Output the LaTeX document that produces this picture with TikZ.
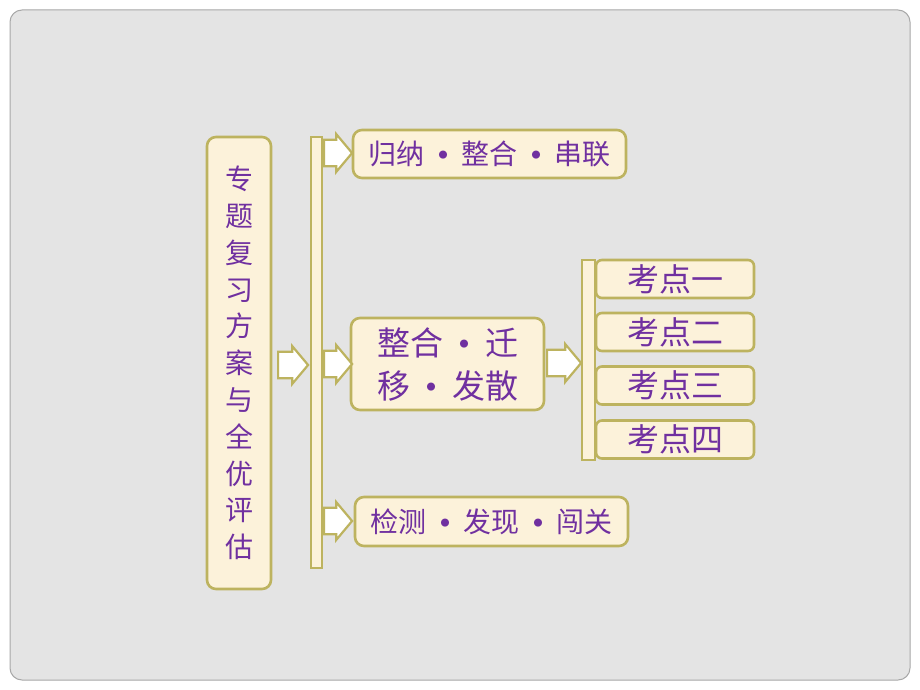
\documentclass[tikz,border=0pt]{standalone}
\usepackage{fontspec}
\setmainfont{Noto Sans CJK SC}
\usetikzlibrary{shapes.arrows}
\definecolor{bggray}{HTML}{E4E4E4}
\definecolor{bgline}{HTML}{A8A8A8}
\definecolor{cream}{HTML}{FCF2DA}
\definecolor{olive}{HTML}{BDB35F}
\definecolor{txtpurple}{HTML}{7030A0}
\newcommand{\dotsep}{\hspace{0.5em}\raisebox{0.22em}{\fontsize{9}{9}\selectfont ●}\hspace{0.5em}}
\tikzset{
  box/.style={draw=olive, fill=cream, line width=2.6pt, rounded corners=9pt,
    text=txtpurple, inner sep=0pt, align=center},
  barbox/.style={draw=olive, fill=cream, line width=2.4pt, inner sep=0pt},
  blockarrow/.style={single arrow, draw=olive, fill=white, line width=2.2pt,
    inner xsep=0pt, inner ysep=8pt, minimum width=38pt, single arrow tip angle=100,
    single arrow head extend=4pt}
}
\begin{document}
\begin{tikzpicture}[x=1pt,y=-1pt]
\useasboundingbox (0,0) rectangle (920,690);
\fill[white] (0,0) rectangle (920,690);
\draw[bgline, fill=bggray, line width=1pt, rounded corners=12pt] (10,10) rectangle (910,680);

% left box
\node[box, minimum width=64pt, minimum height=452pt, font=\fontsize{28}{36.8}\selectfont] (L) at (239,363)
  {专\\题\\复\\习\\方\\案\\与\\全\\优\\评\\估};

% bars
\node[barbox, minimum width=11pt, minimum height=431pt] (bar1) at (316.5,352.5) {};
\node[barbox, minimum width=13pt, minimum height=200pt] (bar2) at (588.5,360) {};

% boxes
\node[box, minimum width=273pt, minimum height=48pt, font=\fontsize{28}{32}\selectfont] (A) at (489.5,154)
  {归纳\dotsep 整合\dotsep 串联};
\node[box, minimum width=193pt, minimum height=92pt, font=\fontsize{33}{43}\selectfont] (B) at (447.5,364)
  {整合\dotsep 迁\\移\dotsep 发散};
\node[box, minimum width=273pt, minimum height=49pt, font=\fontsize{28}{32}\selectfont] (C) at (491.5,521.5)
  {检测\dotsep 发现\dotsep 闯关};

\tikzset{kbox/.style={box, rounded corners=6pt, minimum width=158pt, minimum height=38pt,
  font=\fontsize{32}{34}\selectfont}}
\node[kbox] (K1) at (675,279) {考点一};
\node[kbox] (K2) at (675,332) {考点二};
\node[kbox] (K3) at (675,385.5) {考点三};
\node[kbox] (K4) at (675,439.5) {考点四};

% arrows
\node[blockarrow, minimum height=30pt, anchor=tail] (a0) at (277,365) {};
\node[blockarrow, minimum height=28pt, anchor=tail] (a1) at (323,153) {};
\node[blockarrow, minimum height=28pt, anchor=tail] (a2) at (323,364) {};
\node[blockarrow, minimum height=28pt, anchor=tail] (a3) at (323,521) {};
\node[blockarrow, minimum height=34pt, anchor=tail] (a4) at (546,363) {};
\end{tikzpicture}
\end{document}
